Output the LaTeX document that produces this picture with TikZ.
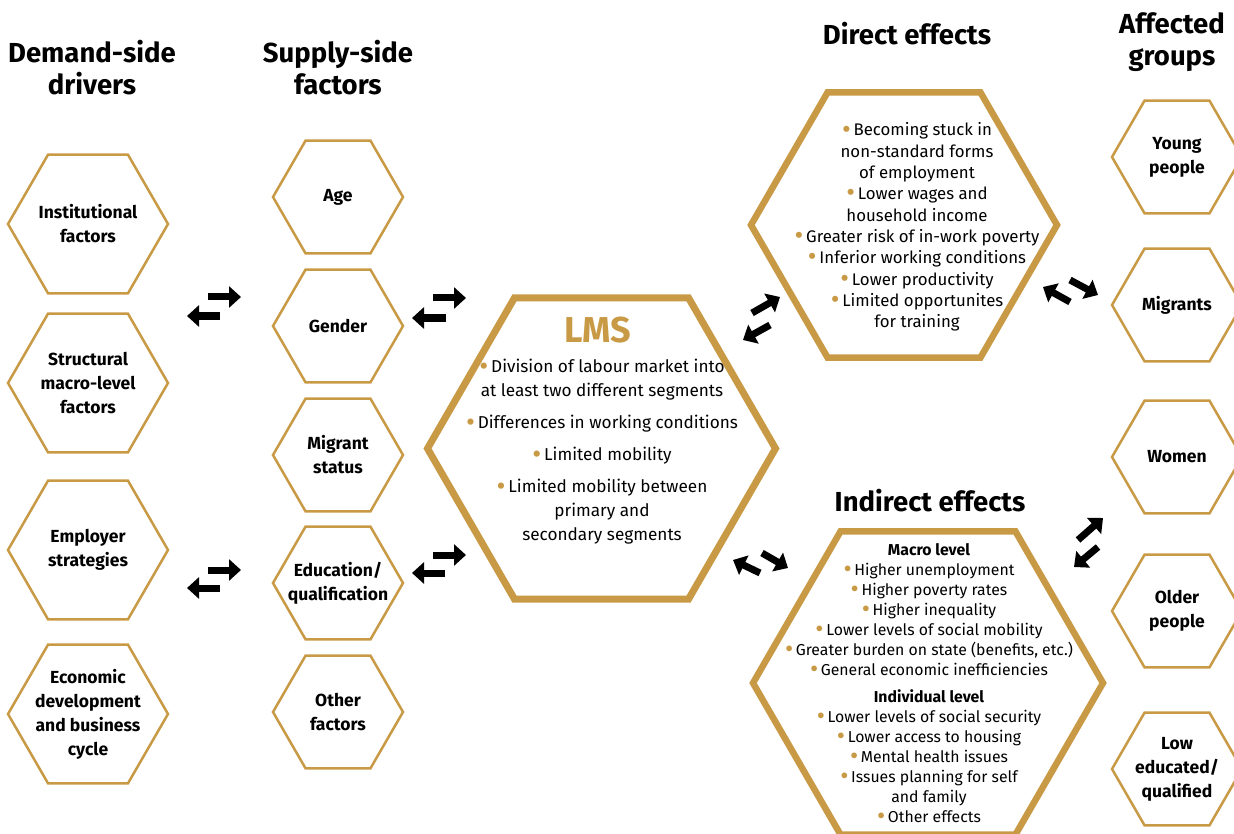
\documentclass[tikz,border=0pt]{standalone}
\usepackage{fontspec}
\setmainfont{Fira Sans}
\usetikzlibrary{shapes.geometric,arrows.meta}
\definecolor{gold}{HTML}{C99A45}
\newcommand{\bul}{{\color{gold}\raisebox{-0.13em}{\scalebox{1.6}{\textbullet}}}\,}

\begin{document}
\begin{tikzpicture}[x=1pt, y=-1pt,
    hex/.style={regular polygon, regular polygon sides=6, draw=gold, inner sep=0pt},
    demand hex/.style={hex, line width=2.5pt, minimum size=160pt},
    small hex/.style={hex, line width=2.5pt, minimum size=130pt},
    big hex/.style={hex, line width=6.5pt},
    hex label/.style={align=center, font=\fontsize{17.5}{24}\selectfont\bfseries},
    col title/.style={align=center, font=\fontsize{27.5}{32}\selectfont\bfseries},
    effects/.style={align=center, font=\fontsize{16.8}{21.3}\selectfont},
    fat/.style={line width=7pt, -{Triangle[width=21pt,length=12pt]}}]
    \useasboundingbox (0,0) rectangle (1234,834);
    \fill[white] (0,0) rectangle (1234,834);

    % titres des colonnes
    \node[col title] (t-demand) at (92,68) {Demand-side\\drivers};
    \node[col title] (t-supply) at (338,68) {Supply-side\\factors};
    \node[col title] (t-direct) at (907,34) {Direct effects};
    \node[col title] (t-groups) at (1172,42) {Affected\\groups};
    \node[col title] (t-indirect) at (930,501) {Indirect effects};

    % demand-side drivers
    \node[demand hex] (inst) at (88,224) {};
    \node[demand hex] (struct) at (88,383) {};
    \node[demand hex] (empl) at (88,550) {};
    \node[demand hex] (econ) at (88,714) {};
    \node[hex label] (inst-t) at (inst) {Institutional\\factors};
    \node[hex label] (struct-t) at (struct) {Structural\\macro-level\\factors};
    \node[hex label] (empl-t) at (empl) {Employer\\strategies};
    \node[hex label] (econ-t) at (econ) {Economic\\development\\and business\\cycle};

    % supply-side factors
    \node[small hex] (age) at (338,197) {};
    \node[small hex] (gender) at (338,326) {};
    \node[small hex] (migr) at (338,455) {};
    \node[small hex] (edu) at (338,583) {};
    \node[small hex] (other) at (338,712) {};
    \node[hex label] (age-t) at (age) {Age};
    \node[hex label] (gender-t) at (gender) {Gender};
    \node[hex label] (migr-t) at (migr) {Migrant\\status};
    \node[hex label] (edu-t) at (edu) {Education/\\qualification};
    \node[hex label] (other-t) at (other) {Other\\factors};

    % LMS
    \node[big hex, minimum size=348pt, line width=7pt] (lms) at (601.5,448.5) {};
    \node[font=\fontsize{36}{40}\selectfont\bfseries, text=gold] (lms-t) at (598,330) {LMS};
    \node[align=center, font=\fontsize{17.2}{24}\selectfont] (lms-b) at (602,452)
        {\bul Division of labour market into\\at least two different segments\\[8pt]
         \bul Differences in working conditions\\[8pt]
         \bul Limited mobility\\[8pt]
         \bul Limited mobility between\\primary and\\secondary segments};

    % effets directs
    \node[big hex, minimum size=306pt] (direct) at (904,225) {};
    \node[effects] (direct-b) at (917,227)
        {\bul Becoming stuck in\\non-standard forms\\of employment\\
         \bul Lower wages and\\household income\\
         \bul Greater risk of in-work poverty\\
         \bul Inferior working conditions\\
         \bul Lower productivity\\
         \bul Limited opportunites\\for training};

    % effets indirects
    \node[big hex, minimum size=350pt] (indirect) at (928,683) {};
    \node[effects, font=\fontsize{15.8}{20}\selectfont] (indirect-b) at (929,684)
        {\textbf{Macro level}\\
         \bul Higher unemployment\\
         \bul Higher poverty rates\\
         \bul Higher inequality\\
         \bul Lower levels of social mobility\\
         \bul Greater burden on state (benefits, etc.)\\
         \bul General economic inefficiencies\\[7pt]
         \textbf{Individual level}\\
         \bul Lower levels of social security\\
         \bul Lower access to housing\\
         \bul Mental health issues\\
         \bul Issues planning for self\\and family\\
         \bul Other effects};

    % groupes touches
    \node[small hex] (young) at (1177,157) {};
    \node[small hex] (migrants) at (1177,305) {};
    \node[small hex] (women) at (1177,457) {};
    \node[small hex] (older) at (1177,611) {};
    \node[small hex] (loweduc) at (1177,769) {};
    \node[hex label] (young-t) at (young) {Young\\people};
    \node[hex label] (migrants-t) at (migrants) {Migrants};
    \node[hex label] (women-t) at (women) {Women};
    \node[hex label] (older-t) at (older) {Older\\people};
    \node[hex label] (loweduc-t) at (loweduc) {Low\\educated/\\qualified};

    % doubles fleches
    \foreach \n/\x/\y in {a1/208/297, a2/241/297, b1/220/316, b2/187/316,
                          c1/433/298, c2/466/298, d1/446/318, d2/412/318,
                          e1/208/570, e2/241/570, f1/220/588, f2/187/588,
                          g1/433/555, g2/466/555, h1/445/573, h2/412/573,
                          i1/752/313, i2/780/297, j1/770/325, j2/743/340,
                          k1/1070/302, k2/1043/287, l1/1070/280, l2/1098/295,
                          m1/760/573, m2/733/560, n1/762/553, n2/788/568,
                          o1/1078/540, o2/1103/518, p1/1098/547, p2/1074/567}
        \coordinate (\n) at (\x,\y);
    \foreach \s/\e in {a1/a2, b1/b2, c1/c2, d1/d2, e1/e2, f1/f2, g1/g2, h1/h2,
                       i1/i2, j1/j2, k1/k2, l1/l2, m1/m2, n1/n2, o1/o2, p1/p2}
        \draw[fat] (\s) -- (\e);
\end{tikzpicture}
\end{document}
